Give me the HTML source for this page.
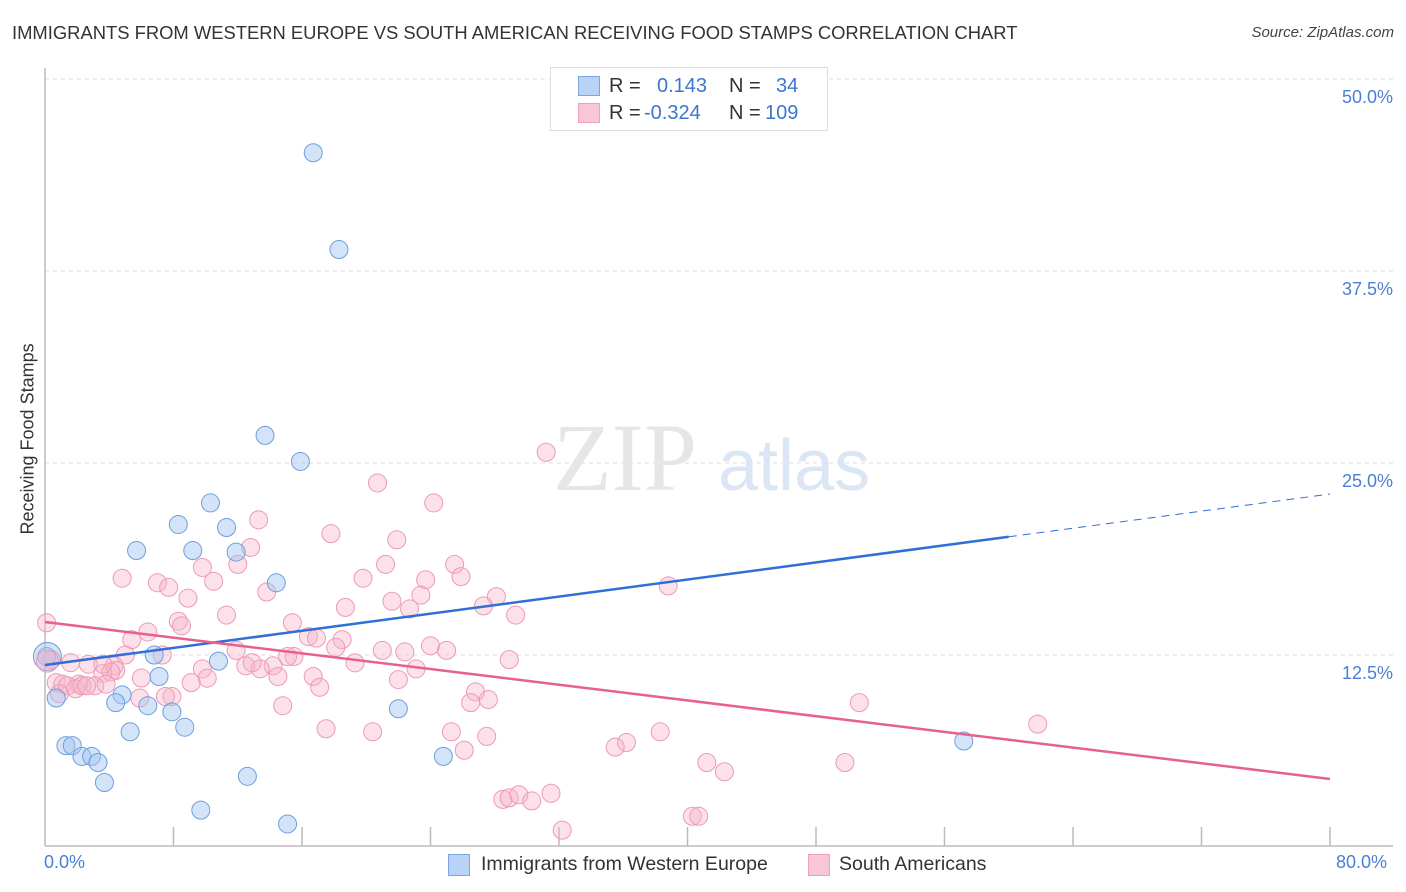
<!DOCTYPE html>
<html><head><meta charset="utf-8">
<style>
body{margin:0;background:#fff;font-family:"Liberation Sans",sans-serif;}
#wrap{position:relative;width:1406px;height:892px;overflow:hidden;}
.t{position:absolute;white-space:nowrap;}
</style></head>
<body>
<div id="wrap">
<div class="t" style="left:12px;top:22px;font-size:18.4px;color:#333;">IMMIGRANTS FROM WESTERN EUROPE VS SOUTH AMERICAN RECEIVING FOOD STAMPS CORRELATION CHART</div>
<div class="t" style="right:12px;top:24px;font-size:15px;color:#444;font-style:italic;">Source: ZipAtlas.com</div>
<svg id="svg" width="1406" height="892" style="position:absolute;left:0;top:0"></svg>
</div>
<script>
const yTicks=[12.5,25,37.5,50];
const yTickLabels=["12.5%","25.0%","37.5%","50.0%"];
const xTicks=[0,8,16,24,32,40,48,56,64,72,80];
const blueX=[16.7,18.3,13.7,15.9,10.3,8.3,11.3,5.7,9.2,11.9,14.4,6.8,0.1,10.8,7.1,4.8,0.7,4.4,6.4,7.9,8.7,5.3,1.3,1.7,2.3,2.9,3.3,3.7,12.6,22.0,24.8,9.7,15.1,57.2];
const blueY=[45.2,38.9,26.8,25.1,22.4,21.0,20.8,19.3,19.3,19.2,17.2,12.5,12.4,12.1,11.1,9.9,9.7,9.4,9.2,8.8,7.8,7.5,6.6,6.6,5.9,5.9,5.5,4.2,4.6,9.0,5.9,2.4,1.5,6.9];
const pinkX=[31.2,20.7,24.2,13.3,17.8,21.9,12.8,25.5,21.2,9.8,12.0,4.8,7.0,10.5,19.8,23.7,25.9,38.8,7.7,13.8,23.4,28.1,8.9,21.6,18.7,22.7,27.3,29.3,11.3,8.3,8.5,15.4,0.1,6.4,5.4,16.4,16.9,18.5,24.0,25.0,18.1,21.0,22.4,11.9,7.3,5.0,15.5,15.1,28.9,0.4,19.3,14.2,12.5,2.7,4.3,9.8,4.4,3.6,13.4,4.1,16.7,14.5,10.1,23.1,22.0,0.7,1.1,2.1,1.4,3.1,1.9,3.8,2.3,2.6,5.9,7.9,9.1,17.1,7.5,0.9,26.8,27.6,26.5,14.8,50.7,61.8,17.5,20.4,25.3,27.5,26.1,36.2,38.3,41.2,35.5,42.3,49.8,28.5,28.9,29.5,30.3,31.5,32.2,40.3,40.7,1.6,12.9,3.6,6.0];
const pinkY=[25.7,23.7,22.4,21.3,20.4,20.0,19.5,18.4,18.4,18.2,18.4,17.5,17.2,17.3,17.5,17.4,17.6,17.0,16.9,16.6,16.4,16.3,16.2,16.0,15.6,15.5,15.7,15.1,15.1,14.7,14.4,14.6,14.6,14.0,13.5,13.7,13.6,13.5,13.1,12.8,13.0,12.8,12.7,12.8,12.5,12.5,12.4,12.4,12.2,12.2,11.99,11.8,11.8,11.9,11.8,11.6,11.5,11.3,11.6,11.4,11.1,11.1,10.99,11.6,10.9,10.7,10.6,10.6,10.5,10.5,10.3,10.6,10.5,10.5,9.7,9.8,10.7,10.4,9.8,9.98,10.1,9.6,9.4,9.2,9.4,8.0,7.7,7.5,7.5,7.2,6.3,6.8,7.5,5.5,6.5,4.9,5.5,3.1,3.2,3.4,3.0,3.5,1.1,2.0,2.0,12.0,12.0,11.9,11.0];
const blueTrend=[11.85,22.98];
const pinkTrend=[14.65,4.43];
const svg=document.getElementById('svg');
const NS='http://www.w3.org/2000/svg';
const X0=45,X1=1330,Y0=847,YPX=15.36;
const sx=v=>X0+(X1-X0)*v/80, sy=v=>Y0-v*YPX;
function mk(tag,attrs,name){const e=document.createElementNS(NS,tag);for(const k in attrs)e.setAttribute(k,attrs[k]);


svg.appendChild(e);return e;}
yTicks.forEach((t,i)=>{
 mk('line',{x1:X0,x2:1393,y1:sy(t),y2:sy(t),stroke:'#dcdcdc','stroke-dasharray':'4,4'},'gridline');
 const tx=mk('text',{x:1393,y:sy(t)+24,'text-anchor':'end','font-size':18,fill:'#4a7fd4','font-family':'Liberation Sans'},'y-tick-label');
 tx.textContent=yTickLabels[i];
});
mk('line',{x1:X0,x2:X0,y1:68,y2:846,stroke:'#bbb','stroke-width':1.5},'y-axis');
mk('line',{x1:X0,x2:1393,y1:846,y2:846,stroke:'#bbb','stroke-width':1.5},'x-axis');
xTicks.forEach(t=>{if(t>0)mk('line',{x1:sx(t),x2:sx(t),y1:827,y2:846,stroke:'#bbb','stroke-width':1.5},'x-tick');});
let w=mk('text',{x:553,y:490,'font-size':96,fill:'#e6e6e6','font-family':'Liberation Serif'},'watermark-zip');w.textContent='ZIP';
w=mk('text',{x:718,y:490,'font-size':72,fill:'#dbe6f5','font-family':'Liberation Sans'},'watermark-atlas');w.textContent='atlas';
function pts(xs,ys,fill,stroke,name){xs.forEach((x,i)=>{mk('circle',{cx:sx(x),cy:sy(ys[i]),r:9,fill:fill,stroke:stroke,'stroke-width':1},name);});}
pts(pinkX,pinkY,'rgba(248,180,202,0.4)','#ec9ab6','pink-point');
pts(blueX,blueY,'rgba(160,196,240,0.45)','#6e9edf','blue-point');
mk('circle',{cx:sx(0.15),cy:sy(12.4),r:14,fill:'rgba(160,196,240,0.45)',stroke:'#6e9edf'},'blue-point-large');
mk('circle',{cx:sx(0.15),cy:sy(12.1),r:11,fill:'rgba(248,180,202,0.45)',stroke:'#ec9ab6'},'pink-point-large');
const bx=60;
mk('line',{x1:sx(0),y1:sy(blueTrend[0]),x2:sx(bx),y2:sy(blueTrend[0]+(blueTrend[1]-blueTrend[0])*bx/80),stroke:'#2f6fd6','stroke-width':2.5},'blue-trend-line');
mk('line',{x1:sx(bx),y1:sy(blueTrend[0]+(blueTrend[1]-blueTrend[0])*bx/80),x2:sx(80),y2:sy(blueTrend[1]),stroke:'#2f6fd6','stroke-width':1,'stroke-dasharray':'8,6'},'blue-trend-dashed');
mk('line',{x1:sx(0),y1:sy(pinkTrend[0]),x2:sx(80),y2:sy(pinkTrend[1]),stroke:'#e8608e','stroke-width':2.5},'pink-trend-line');
</script>
<div class="t" style="left:-52px;top:444px;font-size:18px;color:#333;transform:rotate(-90deg);transform-origin:center;width:160px;text-align:center;">Receiving Food Stamps</div>
<div class="t" style="left:44px;top:852px;font-size:18px;color:#4a7fd4;">0.0%</div>
<div class="t" style="left:1336px;top:852px;font-size:18px;color:#4a7fd4;">80.0%</div>
<div style="position:absolute;left:550px;top:67px;width:276px;height:62px;border:1px solid #ddd;background:#fff;font-size:20px;">
 <div style="position:absolute;left:27px;top:8px;width:20px;height:18px;background:#b8d3f5;border:1px solid #7aa7e3"></div>
 <div class="t" style="left:58px;top:7px;color:#333">R =</div>
 <div class="t" style="left:106px;top:7px;color:#3a76d0">0.143</div>
 <div class="t" style="left:178px;top:7px;color:#333">N =</div>
 <div class="t" style="left:225px;top:7px;color:#3a76d0">34</div>
 <div style="position:absolute;left:27px;top:35px;width:20px;height:18px;background:#f8c6d6;border:1px solid #eea0bb"></div>
 <div class="t" style="left:58px;top:34px;color:#333">R =</div>
 <div class="t" style="left:93px;top:34px;color:#3a76d0">-0.324</div>
 <div class="t" style="left:178px;top:34px;color:#333">N =</div>
 <div class="t" style="left:214px;top:34px;color:#3a76d0">109</div>
</div>
<div style="position:absolute;left:448px;top:852px;font-size:19.5px;color:#333;">
 <div style="position:absolute;left:0;top:2px;width:20px;height:20px;background:#b8d3f5;border:1px solid #7aa7e3"></div>
 <div class="t" style="left:33px;top:1px">Immigrants from Western Europe</div>
 <div style="position:absolute;left:360px;top:2px;width:20px;height:20px;background:#f8c6d6;border:1px solid #eea0bb"></div>
 <div class="t" style="left:391px;top:1px">South Americans</div>
</div>
</body></html>
